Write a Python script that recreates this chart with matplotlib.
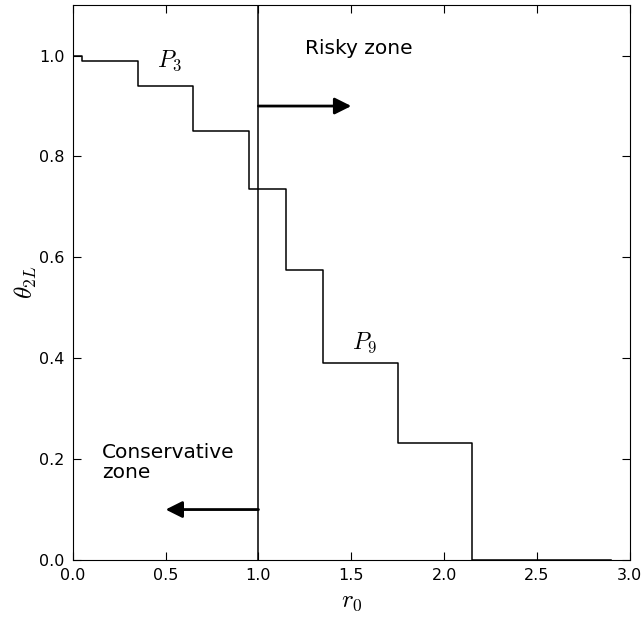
import matplotlib
matplotlib.use("Agg")
import matplotlib.pyplot as plt

plt.rcParams.update({"font.family": "DejaVu Sans", "mathtext.fontset": "cm"})

# step edges (r0) and plateau levels (theta_2L)
r_edges = [0.0, 0.05, 0.35, 0.65, 0.95, 1.15, 1.35, 1.75, 2.15, 2.9]
theta = [1.0, 0.99, 0.94, 0.85, 0.735, 0.575, 0.39, 0.232, 0.0]
r_threshold = 1.0
xticks = [0.0, 0.5, 1.0, 1.5, 2.0, 2.5, 3.0]
yticks = [0.0, 0.2, 0.4, 0.6, 0.8, 1.0]

fig = plt.figure(figsize=(6.44, 6.22), dpi=100)
ax = fig.add_axes([0.113, 0.0997, 0.865, 0.892])

ax.step(r_edges, theta + [theta[-1]], where="post", color="k", lw=1.1)
ax.axvline(r_threshold, color="k", lw=1.1)

aprops = dict(arrowstyle="-|>,head_length=1.0,head_width=0.5", lw=2, color="k",
              shrinkA=0, shrinkB=0)
ax.annotate("", xy=(1.5, 0.9), xytext=(r_threshold, 0.9), arrowprops=aprops)
ax.annotate("", xy=(0.5, 0.1), xytext=(r_threshold, 0.1), arrowprops=aprops)

ax.text(1.25, 1.014, "Risky zone", fontsize=14.5, va="center", ha="left")
ax.text(0.156, 0.232, "Conservative\nzone", fontsize=14.5, va="top", ha="left", linespacing=1.1)
ax.text(0.52, 0.99, "$P_3$", fontsize=17, ha="center", va="center")
ax.text(1.57, 0.43, "$P_9$", fontsize=17, ha="center", va="center")

ax.set_xlim(0, 3.0)
ax.set_ylim(0, 1.1)
ax.set_xticks(xticks)
ax.set_yticks(yticks)
ax.tick_params(direction="in", top=True, right=True, labelsize=11.5, length=6, pad=6)
ax.set_xlabel("$r_0$", fontsize=18)
ax.set_ylabel(r"$\theta_{2L}$", fontsize=18, labelpad=0)

fig.savefig("out.png", dpi=100)
